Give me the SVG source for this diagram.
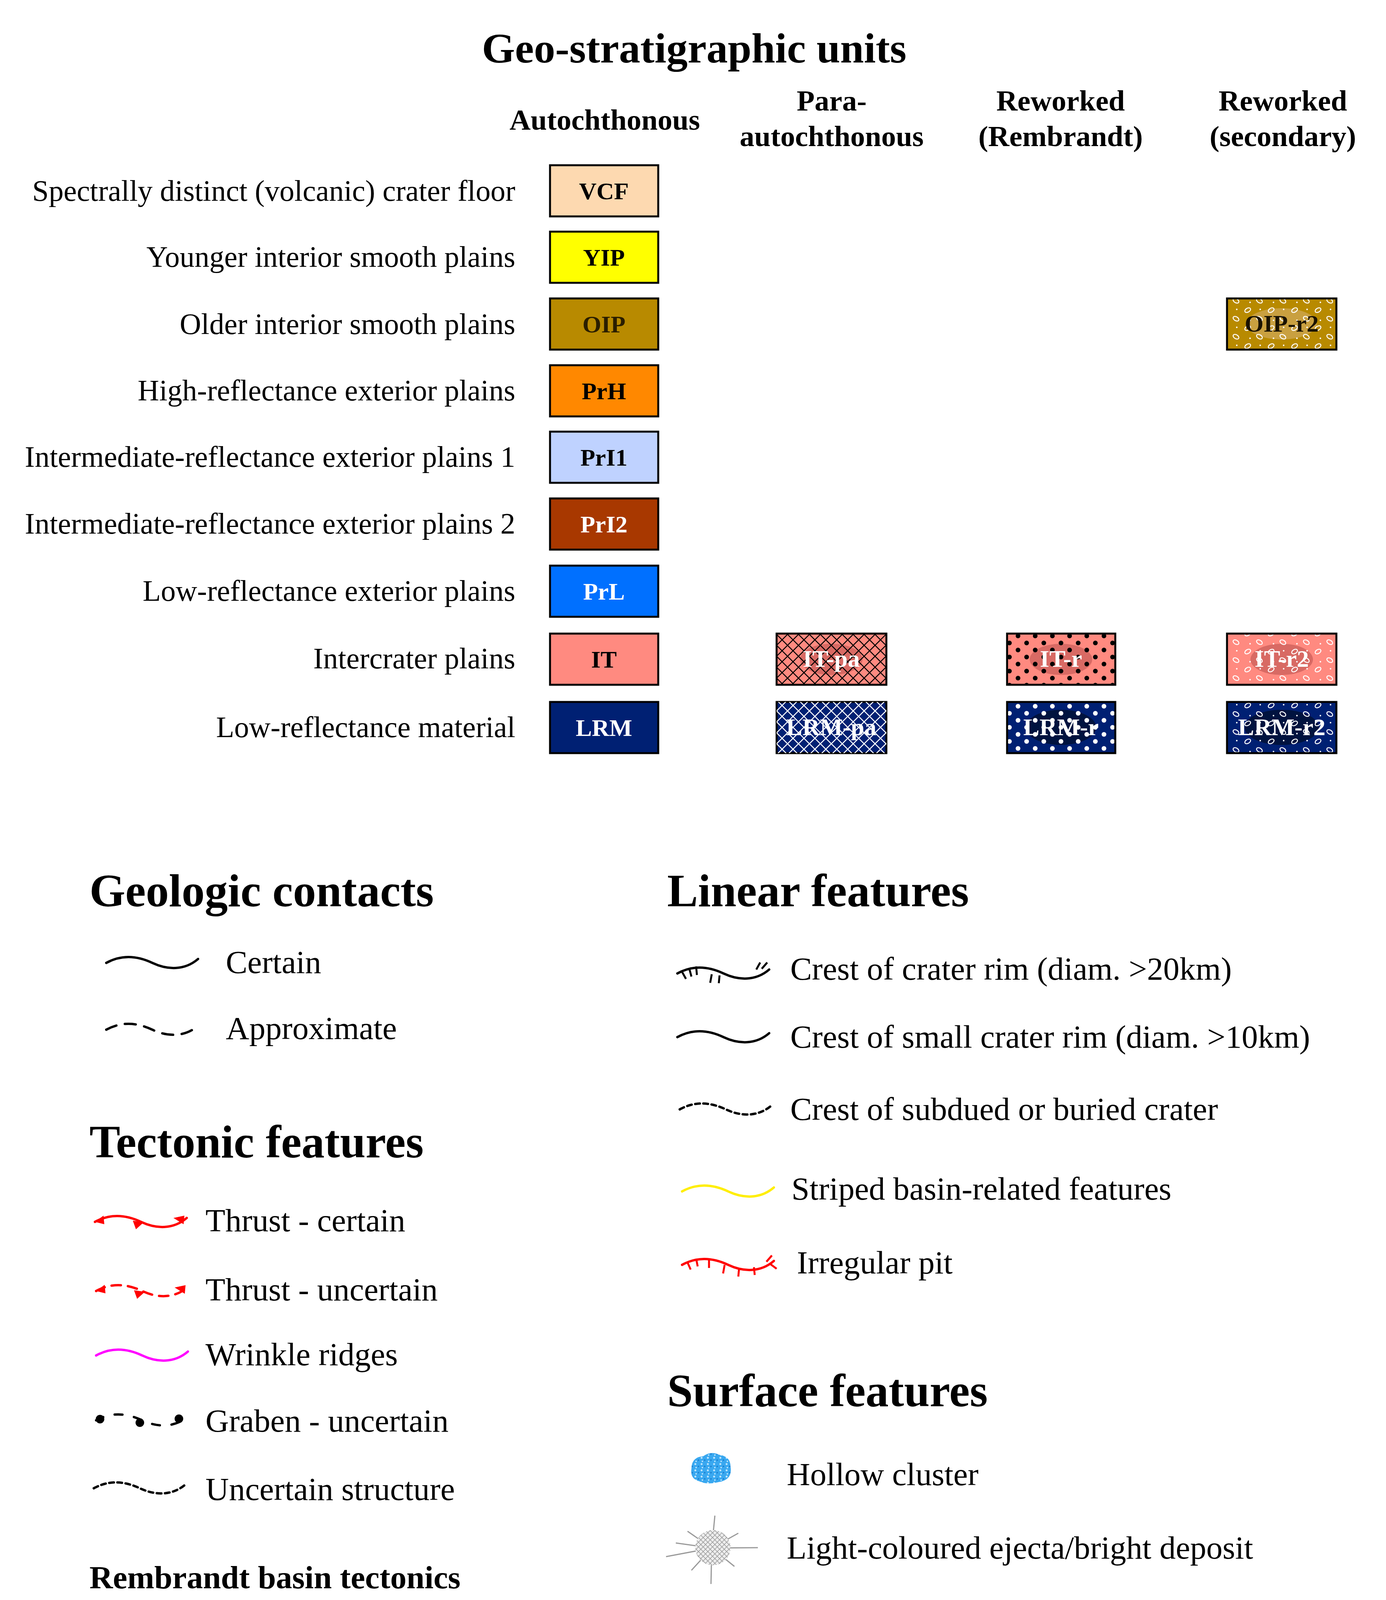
<svg xmlns="http://www.w3.org/2000/svg" xmlns:xlink="http://www.w3.org/1999/xlink" width="3548" height="4477" viewBox="0 0 3548 4477">
<style>
.t{font-family:"Liberation Serif",serif;fill:#000}
.title{font-size:109px;font-weight:bold}
.h2{font-size:118px;font-weight:bold}
.h3{font-size:83px;font-weight:bold}
.hd{font-size:75px;font-weight:bold;text-anchor:middle}
.lab{font-size:76px;text-anchor:end}
.leg{font-size:83px}
.bx{stroke:#000;stroke-width:5}
.bt{font-family:"Liberation Serif",serif;font-size:62px;font-weight:bold;text-anchor:middle}
.ln{fill:none;stroke-width:6;stroke-linecap:round}
</style>
<defs>
<path id="wave" d="M0,0 C40,-22 80,-18 118,0 S200,20 235,-10"/>
<pattern id="xh" width="28" height="28" patternUnits="userSpaceOnUse"><path d="M0,0L28,28M28,0L0,28" stroke="#000" stroke-width="2.5"/></pattern>
<pattern id="xhw" width="28" height="28" patternUnits="userSpaceOnUse"><path d="M0,0L28,28M28,0L0,28" stroke="#fff" stroke-width="2.5"/></pattern>
<pattern id="dk" width="44" height="36" patternUnits="userSpaceOnUse"><circle cx="10" cy="8" r="6" fill="#000"/><circle cx="32" cy="26" r="6" fill="#000"/></pattern>
<pattern id="dw" width="44" height="36" patternUnits="userSpaceOnUse"><circle cx="10" cy="8" r="6" fill="#fff"/><circle cx="32" cy="26" r="6" fill="#fff"/></pattern>
<pattern id="el" width="60" height="46" patternUnits="userSpaceOnUse"><ellipse cx="14" cy="12" rx="8" ry="5" fill="none" stroke="#fff" stroke-width="2.5" transform="rotate(-30 14 12)"/><ellipse cx="44" cy="34" rx="8" ry="5" fill="none" stroke="#fff" stroke-width="2.5" transform="rotate(30 44 34)"/><circle cx="46" cy="10" r="2" fill="#fff"/><circle cx="20" cy="38" r="2" fill="#fff"/></pattern>
<pattern id="noiseB" width="16" height="16" patternUnits="userSpaceOnUse"><rect width="16" height="16" fill="#39a8f0"/><circle cx="4" cy="4" r="2.5" fill="#bfe6ff"/><circle cx="12" cy="10" r="2" fill="#1c7fd0"/><circle cx="6" cy="13" r="1.8" fill="#d8f0ff"/></pattern>
<pattern id="noiseM" width="16" height="16" patternUnits="userSpaceOnUse"><rect width="16" height="16" fill="#c400c4"/><circle cx="4" cy="4" r="2.5" fill="#400040"/><circle cx="12" cy="11" r="2.2" fill="#5a005a"/></pattern>
<pattern id="grid" width="12" height="12" patternUnits="userSpaceOnUse"><rect width="12" height="12" fill="#eee"/><path d="M0,0L12,12M12,0L0,12" stroke="#999" stroke-width="1.5"/></pattern>
</defs>

<g id="header">
<text class="t title" x="1777" y="160" text-anchor="middle">Geo-stratigraphic units</text>
<text class="t hd" x="1548" y="332">Autochthonous</text>
<text class="t hd" x="2129" y="283">Para-</text>
<text class="t hd" x="2129" y="374">autochthonous</text>
<text class="t hd" x="2715" y="283">Reworked</text>
<text class="t hd" x="2715" y="374">(Rembrandt)</text>
<text class="t hd" x="3284" y="283">Reworked</text>
<text class="t hd" x="3284" y="374">(secondary)</text>
</g>

<g id="row-labels">
<text class="t lab" x="1319" y="514">Spectrally distinct (volcanic) crater floor</text>
<text class="t lab" x="1319" y="683">Younger interior smooth plains</text>
<text class="t lab" x="1319" y="855">Older interior smooth plains</text>
<text class="t lab" x="1319" y="1025">High-reflectance exterior plains</text>
<text class="t lab" x="1319" y="1195">Intermediate-reflectance exterior plains 1</text>
<text class="t lab" x="1319" y="1366">Intermediate-reflectance exterior plains 2</text>
<text class="t lab" x="1319" y="1538">Low-reflectance exterior plains</text>
<text class="t lab" x="1319" y="1711">Intercrater plains</text>
<text class="t lab" x="1319" y="1887">Low-reflectance material</text>
</g>

<g id="VCF"><rect class="bx" x="1408" y="423" width="277" height="131" fill="#fdd9b0"/><text class="bt" x="1546" y="510">VCF</text></g>
<g id="YIP"><rect class="bx" x="1408" y="593" width="277" height="131" fill="#ffff00"/><text class="bt" x="1546" y="680">YIP</text></g>
<g id="OIP"><rect class="bx" x="1408" y="764" width="277" height="131" fill="#b88a00"/><text class="bt" x="1546" y="851" fill="#2a1e00">OIP</text></g>
<g id="PrH"><rect class="bx" x="1408" y="935" width="277" height="131" fill="#ff8800"/><text class="bt" x="1546" y="1022">PrH</text></g>
<g id="PrI1"><rect class="bx" x="1408" y="1105" width="277" height="131" fill="#bfd2ff"/><text class="bt" x="1546" y="1192">PrI1</text></g>
<g id="PrI2"><rect class="bx" x="1408" y="1276" width="277" height="131" fill="#a83800"/><text class="bt" x="1546" y="1363" fill="#fff">PrI2</text></g>
<g id="PrL"><rect class="bx" x="1408" y="1448" width="277" height="131" fill="#0070ff"/><text class="bt" x="1546" y="1535" fill="#fff">PrL</text></g>
<g id="IT"><rect class="bx" x="1408" y="1622" width="277" height="131" fill="#ff8a80"/><text class="bt" x="1546" y="1709">IT</text></g>
<g id="LRM"><rect class="bx" x="1408" y="1797" width="277" height="131" fill="#002073"/><text class="bt" x="1546" y="1884" fill="#fff">LRM</text></g>

<g id="OIP-r2"><rect x="3141" y="764" width="280" height="131" fill="#b88a00"/><ellipse cx="3281" cy="829" rx="90" ry="40" fill="#c9a040"/><rect class="bx" x="3141" y="764" width="280" height="131" fill="url(#el)"/><text class="bt" x="3281" y="849" fill="#1a1200">OIP-r2</text></g>

<g id="IT-pa"><rect x="1988" y="1622" width="281" height="131" fill="#ff8a80"/><ellipse cx="2128" cy="1688" rx="80" ry="40" fill="#d86a64"/><rect class="bx" x="1988" y="1622" width="281" height="131" fill="url(#xh)"/><text class="bt" x="2128" y="1707" fill="#fff">IT-pa</text></g>
<g id="IT-r"><rect x="2578" y="1622" width="277" height="131" fill="#ff8a80"/><ellipse cx="2716" cy="1688" rx="80" ry="40" fill="#d86a64"/><rect class="bx" x="2578" y="1622" width="277" height="131" fill="url(#dk)"/><text class="bt" x="2716" y="1707" fill="#fff">IT-r</text></g>
<g id="IT-r2"><rect x="3141" y="1622" width="280" height="131" fill="#ff8a80"/><ellipse cx="3281" cy="1688" rx="80" ry="40" fill="#d86a64"/><rect class="bx" x="3141" y="1622" width="280" height="131" fill="url(#el)"/><text class="bt" x="3281" y="1707" fill="#fff">IT-r2</text></g>

<g id="LRM-pa"><rect class="bx" x="1988" y="1797" width="281" height="131" fill="#002073"/><rect x="1988" y="1797" width="281" height="131" fill="url(#xhw)"/><text class="bt" x="2128" y="1882" fill="#fff">LRM-pa</text></g>
<g id="LRM-r"><rect x="2578" y="1797" width="277" height="131" fill="#002073"/><ellipse cx="2716" cy="1862" rx="90" ry="45" fill="#00133f"/><rect class="bx" x="2578" y="1797" width="277" height="131" fill="url(#dw)"/><text class="bt" x="2716" y="1882" fill="#fff">LRM-r</text></g>
<g id="LRM-r2"><rect x="3141" y="1797" width="280" height="131" fill="#002073"/><ellipse cx="3281" cy="1862" rx="95" ry="45" fill="#00133f"/><rect class="bx" x="3141" y="1797" width="280" height="131" fill="url(#el)"/><text class="bt" x="3281" y="1882" fill="#fff">LRM-r2</text></g>

<g id="geologic-contacts">
<text class="t h2" x="229" y="2320">Geologic contacts</text>
<use href="#wave" x="272" y="2465" class="ln" stroke="#000"/>
<text class="t leg" x="578" y="2491">Certain</text>
<use href="#wave" x="272" y="2636" class="ln" stroke="#000" stroke-dasharray="28,22"/>
<text class="t leg" x="578" y="2660">Approximate</text>
</g>

<g id="tectonic-features">
<text class="t h2" x="229" y="2963">Tectonic features</text>
<use href="#wave" x="243" y="3128" class="ln" stroke="#f00"/>
<path d="M243,3128 l22,-16 l2,22z M472,3112 l-28,6 l26,16z M340,3125 l28,4 l-20,18z" fill="#f00"/>
<text class="t leg" x="526" y="3152">Thrust - certain</text>
<use href="#wave" x="246" y="3305" class="ln" stroke="#f00" stroke-dasharray="24,18"/>
<path d="M246,3305 l22,-16 l2,22z M475,3290 l-28,6 l26,16z M343,3303 l28,4 l-20,18z" fill="#f00"/>
<text class="t leg" x="526" y="3329">Thrust - uncertain</text>
<use href="#wave" x="246" y="3470" class="ln" stroke="#f0f"/>
<text class="t leg" x="526" y="3495">Wrinkle ridges</text>
<g fill="#000"><circle cx="256" cy="3633" r="11"/><circle cx="358" cy="3642" r="11"/><circle cx="458" cy="3632" r="11"/></g>
<use href="#wave" x="246" y="3636" class="ln" stroke="#000" stroke-dasharray="20,30"/>
<text class="t leg" x="526" y="3665">Graben - uncertain</text>
<use href="#wave" x="240" y="3810" class="ln" stroke="#000" stroke-width="3" stroke-dasharray="12,9"/>
<text class="t leg" x="526" y="3840">Uncertain structure</text>
<text class="t h3" x="229" y="4066">Rembrandt basin tectonics</text>
<use href="#wave" x="240" y="4211" class="ln" stroke="#1166ee"/>
<text class="t leg" x="546" y="4239">Extensional feature</text>
<use href="#wave" x="240" y="4392" class="ln" stroke="#ff8811"/>
<text class="t leg" x="546" y="4420">Contractional feature</text>
</g>

<g id="linear-features">
<text class="t h2" x="1708" y="2320">Linear features</text>
<use href="#wave" x="1734" y="2492" class="ln" stroke="#000"/>
<path d="M1746,2488 l10,18 M1764,2478 l6,22 M1782,2474 l2,22 M1822,2494 l-4,22 M1842,2497 l-2,20 M1936,2482 l10,-18 M1950,2480 l14,-16" stroke="#000" stroke-width="5" fill="none"/>
<text class="t leg" x="2023" y="2508">Crest of crater rim (diam. &gt;20km)</text>
<use href="#wave" x="1734" y="2655" class="ln" stroke="#000"/>
<text class="t leg" x="2023" y="2682">Crest of small crater rim (diam. &gt;10km)</text>
<use href="#wave" x="1740" y="2840" class="ln" stroke="#000" stroke-width="3" stroke-dasharray="12,9"/>
<text class="t leg" x="2023" y="2867">Crest of subdued or buried crater</text>
<use href="#wave" x="1746" y="3050" class="ln" stroke="#ffee00"/>
<text class="t leg" x="2026" y="3071">Striped basin-related features</text>
<use href="#wave" x="1746" y="3238" class="ln" stroke="#f00"/>
<path d="M1760,3232 l8,18 M1782,3222 l4,20 M1815,3224 l0,22 M1855,3238 l-4,22 M1892,3246 l-2,22 M1930,3244 l2,20 M1962,3230 l14,-16 M1972,3236 l16,12" stroke="#f00" stroke-width="5" fill="none"/>
<text class="t leg" x="2040" y="3260">Irregular pit</text>
</g>

<g id="surface-features">
<text class="t h2" x="1708" y="3600">Surface features</text>
<path d="M1770,3760 q0,-30 30,-32 q20,-14 40,-4 q30,4 30,30 q6,34 -30,40 q-30,8 -50,-2 q-24,-6 -20,-32z" fill="url(#noiseB)"/>
<text class="t leg" x="2014" y="3802">Hollow cluster</text>
<g stroke="#999" stroke-width="3" fill="none">
<path d="M1822,3963 L1830,3880 M1822,3963 L1890,3925 M1822,3963 L1940,3962 M1822,3963 L1880,4010 M1822,3963 L1820,4055 M1822,3963 L1770,4020 M1822,3963 L1705,3985 M1822,3963 L1760,3920 M1822,3963 L1730,3950"/>
</g>
<circle cx="1825" cy="3962" r="45" fill="url(#grid)"/>
<text class="t leg" x="2014" y="3990">Light-coloured ejecta/bright deposit</text>
<path d="M1770,4148 q0,-30 30,-32 q20,-14 40,-4 q30,4 30,30 q6,34 -30,40 q-30,8 -50,-2 q-24,-6 -20,-32z" fill="url(#noiseM)"/>
<text class="t leg" x="2014" y="4176">Pyroclastic deposit</text>
<path d="M1730,4360 q-20,-30 20,-40 q30,-4 50,-14 q40,-30 80,-28 q30,8 18,36 q-20,18 -60,24 q-30,10 -55,22 q-40,20 -53,0z" fill="#fff" stroke="#000" stroke-width="3"/>
<g fill="none" stroke="#000" stroke-width="2.5"><ellipse cx="1752" cy="4345" rx="8" ry="6"/><ellipse cx="1778" cy="4335" rx="7" ry="9"/><ellipse cx="1802" cy="4328" rx="6" ry="5"/><ellipse cx="1822" cy="4320" rx="7" ry="6"/><ellipse cx="1848" cy="4305" rx="8" ry="9"/><ellipse cx="1870" cy="4298" rx="6" ry="7"/><ellipse cx="1840" cy="4330" rx="6" ry="5"/></g>
<text class="t leg" x="2009" y="4362">Secondary crater chain/cluster</text>
</g>
</svg>
